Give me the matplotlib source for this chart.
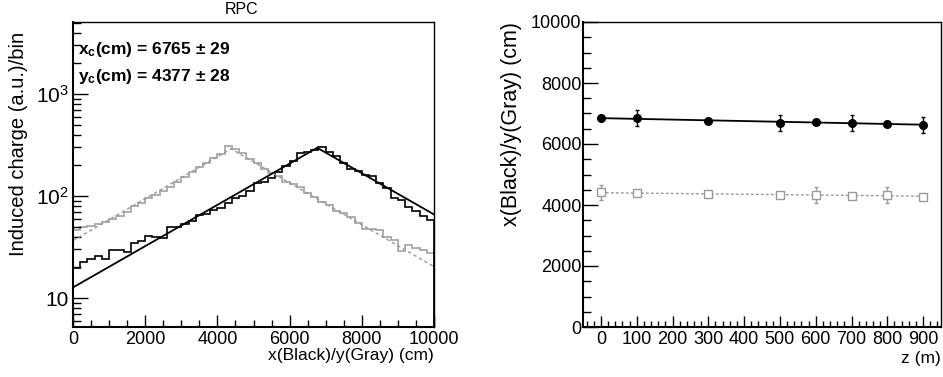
import numpy as np
import matplotlib
matplotlib.use("Agg")
import matplotlib.pyplot as plt
from matplotlib.ticker import FixedLocator, MultipleLocator, LogLocator, FuncFormatter, NullFormatter

plt.rcParams['font.family'] = ['Liberation Sans', 'DejaVu Sans']
plt.rcParams['mathtext.fontset'] = 'custom'
plt.rcParams['mathtext.rm'] = 'Liberation Sans'
plt.rcParams['mathtext.bf'] = 'Liberation Sans:bold'

# ---------------- data: left panel (histograms, 50 bins of 200 cm) ----------------
bin_edges = np.arange(0, 10001, 200)
black_hist = [19.7, 22.4, 23.9, 25.8, 24.3, 29.5, 29.5, 28.0, 34.8, 36.5,
              40.5, 39.9, 38.8, 49.3, 50.0, 52.8, 57.3, 65.0, 66.7, 73.0,
              75.7, 86.0, 96.0, 101.0, 112.0, 133.0, 138.0, 149.0, 171.0, 197.0,
              220.0, 266.0, 272.0, 282.0, 305.0, 272.0, 246.0, 213.0, 184.0, 177.0,
              161.0, 157.0, 133.0, 119.0, 96.0, 91.0, 77.4, 71.3, 64.0, 58.0]
gray_hist = [46.4, 49.4, 51.2, 53.0, 55.6, 59.5, 63.7, 69.2, 79.8, 86.0,
             95.0, 102.0, 112.0, 122.0, 138.0, 155.0, 173.0, 191.0, 212.0, 234.0,
             258.0, 308.0, 287.0, 262.0, 231.0, 209.0, 186.0, 169.0, 157.0, 138.0,
             131.0, 123.0, 108.0, 98.0, 88.0, 81.7, 71.8, 68.0, 61.8, 54.0,
             47.4, 47.4, 46.4, 39.4, 37.0, 29.0, 33.1, 30.7, 29.5, 27.4]
# fit lines (piecewise exponential): x positions and values
black_fit_x = [0, 6765, 10000]
black_fit_y = [12.7, 297, 66]
gray_fit_x = [0, 4377, 10000]
gray_fit_y = [36.5, 290, 20.3]

# ---------------- data: right panel ----------------
z = [0, 100, 300, 500, 600, 700, 800, 900]
xc = [6843, 6843, 6767, 6689, 6732, 6689, 6667, 6623]
xc_err = [40, 262, 40, 250, 40, 250, 40, 250]
yc = [4415, 4383, 4361, 4339, 4339, 4284, 4339, 4273]
yc_err = [246, 40, 40, 40, 262, 40, 262, 40]

fig = plt.figure(figsize=(9.43, 3.77), dpi=100)

GRAY = '#a8a8a8'
GRAY2 = '#9a9a9a'

# ---------------- left panel ----------------
ax1 = fig.add_axes([73/943, 1-327/377, 361/943, 305/377])
ax1.stairs(gray_hist, bin_edges, color=GRAY, lw=1.3)
ax1.stairs(black_hist, bin_edges, color='black', lw=1.2)
ax1.plot(gray_fit_x, gray_fit_y, color=GRAY2, lw=1.0, ls=(0, (2.5, 2.0)))
ax1.plot(black_fit_x, black_fit_y, color='black', lw=1.3)
ax1.set_yscale('log')
ax1.set_xlim(0, 10000)
ax1.set_ylim(5.2, 5080)
ax1.xaxis.set_major_locator(MultipleLocator(2000))
ax1.xaxis.set_minor_locator(MultipleLocator(500))
ax1.yaxis.set_major_locator(FixedLocator([10, 100, 1000]))
ax1.yaxis.set_minor_locator(LogLocator(base=10, subs=np.arange(2, 10)))
ax1.yaxis.set_minor_formatter(NullFormatter())

def logfmt(v, pos):
    if abs(v - 10) < 1e-6:
        return '10'
    e = int(round(np.log10(v)))
    return r'$\mathregular{10^{%d}}$' % e

ax1.yaxis.set_major_formatter(FuncFormatter(logfmt))
ax1.tick_params(axis='both', which='both', direction='in', top=False, right=False, labelsize=13)
ax1.tick_params(axis='y', which='major', length=11, width=1, pad=3, labelsize=15)
ax1.tick_params(axis='y', which='minor', length=6, width=1)
ax1.tick_params(axis='x', which='major', length=9, width=1, pad=3)
ax1.tick_params(axis='x', which='minor', length=5, width=1)
for s in ax1.spines.values():
    s.set_linewidth(1.0)
ax1.spines['left'].set_linewidth(1.5)
ax1.spines['bottom'].set_linewidth(1.5)
ax1.set_ylabel('Induced charge (a.u.)/bin', fontsize=14.5)
ax1.yaxis.set_label_coords(-0.125, 0.6)
ax1.set_xlabel('x(Black)/y(Gray) (cm)', fontsize=12.5, loc='right', labelpad=0)
ax1.text(0.013, 0.895, r'$\mathbf{x_c}$(cm) = 6765 ± 29', transform=ax1.transAxes,
         fontsize=12.5, fontweight='bold', va='baseline')
ax1.text(0.013, 0.805, r'$\mathbf{y_c}$(cm) = 4377 ± 28', transform=ax1.transAxes,
         fontsize=12.5, fontweight='bold', va='baseline')
fig.text(242/943, 1-10/377, 'RPC', ha='center', va='center', fontsize=11.5)

# ---------------- right panel ----------------
ax2 = fig.add_axes([583/943, 1-327/377, 358/943, 305/377])
kb = np.polyfit(z, xc, 1)
kg = np.polyfit(z, yc, 1)
zl = np.array([min(z), max(z)])
ax2.plot(zl, np.polyval(kg, zl), color=GRAY2, lw=1.0, ls=(0, (2.0, 1.6)))
ax2.plot(zl, np.polyval(kb, zl), color='black', lw=1.3)
ax2.errorbar(z, yc, yerr=yc_err, fmt='s', ms=5.5, mfc='white', mec=GRAY2, mew=1.0,
             ecolor=GRAY2, elinewidth=1.0, capsize=1.5, capthick=1.0)
ax2.errorbar(z, xc, yerr=xc_err, fmt='o', ms=5.5, mfc='black', mec='black',
             ecolor='black', elinewidth=1.0, capsize=1.5, capthick=1.0)
ax2.set_xlim(-50, 950)
ax2.set_ylim(0, 10000)
ax2.xaxis.set_major_locator(MultipleLocator(100))
ax2.xaxis.set_minor_locator(MultipleLocator(20))
ax2.yaxis.set_major_locator(MultipleLocator(2000))
ax2.yaxis.set_minor_locator(MultipleLocator(500))
ax2.tick_params(axis='both', which='both', direction='in', top=False, right=False, labelsize=13)
ax2.tick_params(axis='y', which='major', length=11, width=1, pad=1)
ax2.tick_params(axis='y', which='minor', length=6, width=1)
ax2.tick_params(axis='x', which='major', length=8, width=1, pad=3)
ax2.tick_params(axis='x', which='minor', length=4, width=1)
for s in ax2.spines.values():
    s.set_linewidth(1.0)
ax2.spines['left'].set_linewidth(1.5)
ax2.spines['bottom'].set_linewidth(1.5)
ax2.set_ylabel('x(Black)/y(Gray) (cm)', fontsize=15.5)
ax2.yaxis.set_label_coords(-0.17, 0.665)
ax2.set_xlabel('z (m)', fontsize=12.5, loc='right', labelpad=2)

fig.savefig('out.png', dpi=100)
